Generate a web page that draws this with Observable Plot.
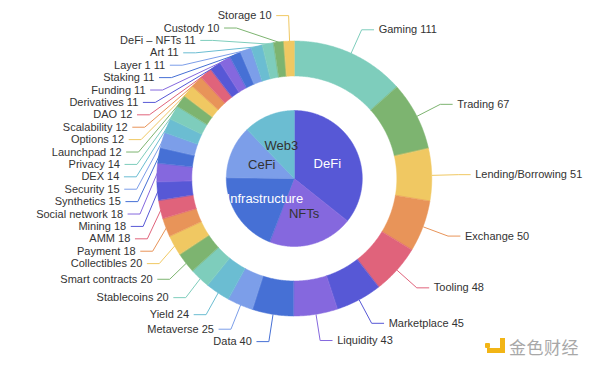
<!DOCTYPE html>
<html>
<head>
<meta charset="utf-8">
<script src="https://cdn.jsdelivr.net/npm/d3@7"></script>
<script src="https://cdn.jsdelivr.net/npm/@observablehq/plot@0.6"></script>
<style>
  html, body { margin: 0; padding: 0; background: #fff; }
  #wrap { position: relative; width: 600px; height: 369px; overflow: hidden; font-family: "Liberation Sans", Arial, sans-serif; }
  #chart { position: absolute; left: 0; top: 0; }
  #logo { position: absolute; left: 484px; top: 336px; height: 18px; width: 110px; }
  #logo .sq { position: absolute; left: 1px; top: 7px; width: 5px; height: 5px; background: #f2b516; border-radius: 1px; }
  #logo .jv { position: absolute; left: 16px; top: 2px; width: 5px; height: 15px; background: #f2b516; }
  #logo .jh { position: absolute; left: 3px; top: 12px; width: 18px; height: 5px; background: #f2b516; }
  #logo .tx { position: absolute; left: 25px; top: -2px; font-family: "Noto Sans CJK SC", sans-serif; font-size: 17px; color: #a8a8a8; letter-spacing: 0.5px; white-space: nowrap; }
</style>
</head>
<body>
<div id="wrap">
  <div id="chart"></div>
  <div id="logo"><div class="sq"></div><div class="jv"></div><div class="jh"></div><div class="tx">金色财经</div></div>
</div>
<script>
// ---- data ----
const categories = ["Gaming", "Trading", "Lending/Borrowing", "Exchange", "Tooling", "Marketplace", "Liquidity", "Data",
  "Metaverse", "Yield", "Stablecoins", "Smart contracts", "Collectibles", "Payment", "AMM", "Mining", "Social network",
  "Synthetics", "Security", "DEX", "Privacy", "Launchpad", "Options", "Scalability", "DAO", "Derivatives", "Funding",
  "Staking", "Layer 1", "Art", "DeFi – NFTs", "Custody", "Storage"];
const values = [111, 67, 51, 50, 48, 45, 43, 40, 25, 24, 20, 20, 20, 18, 18, 18, 18, 15, 15, 14, 14, 12, 12, 12, 12,
  11, 11, 11, 11, 11, 11, 10, 10];
const groups = ["DeFi", "NFTs", "Infrastructure", "CeFi", "Web3"];
const groupValues = [296, 167, 160, 104, 101];
const groupTextColors = ["#ffffff", "#333333", "#ffffff", "#333333", "#333333"];
const palette = ["#7ecdbc", "#7db470", "#f0c862", "#e89459", "#e0637b", "#5758d6", "#8568de", "#4670d5", "#7c9ee9", "#6bbdd2"];

// ---- geometry ----
const W = 600, H = 369;
const cx = 294.3, cy = 178.5;
const pieR = 68, ringR0 = 102.5, ringR1 = 137.5;
const len = 26, len2 = 12, labelDist = 5, labelH = 12.4;

const pt = (a, r) => [cx + r * Math.sin(a), cy - r * Math.cos(a)];
function slices(vals) {
  const total = d3.sum(vals);
  let acc = 0;
  return vals.map(v => {
    const a0 = acc / total * 2 * Math.PI; acc += v;
    const a1 = acc / total * 2 * Math.PI;
    return {a0, a1, mid: (a0 + a1) / 2};
  });
}
function arcRows(name, a0, a1, r0, r1) {
  const n = Math.max(2, Math.ceil((a1 - a0) / (Math.PI / 360)) + 1);
  const rows = [];
  for (let k = 0; k < n; k++) {
    const a = a0 + (a1 - a0) * k / (n - 1);
    const [x1, y1] = pt(a, r0), [x2, y2] = pt(a, r1);
    rows.push({name, x1, y1, x2, y2});
  }
  return rows;
}

const outer = slices(values).map((s, i) => ({...s, name: categories[i], label: `${categories[i]} ${values[i]}`}));
const inner = slices(groupValues).map((s, i) => ({...s, name: groups[i]}));

const ringRows = outer.flatMap(s => arcRows(s.name, s.a0, s.a1, ringR0, ringR1));
const pieRows = inner.flatMap(s => arcRows(s.name, s.a0, s.a1, 0, pieR));

// ---- label layout (pie outer labels with overlap avoidance) ----
const items = outer.map(s => {
  const dir = Math.sin(s.mid) < 0 ? -1 : 1;
  const p0 = pt(s.mid, ringR1), p1 = pt(s.mid, ringR1 + len);
  const x3 = p1[0] + dir * len2;
  return {...s, dir, p0, lx: x3 + dir * labelDist, ly: p1[1]};
});

function recalcX(list, dir) {
  const rA = ringR1 + len;
  const semis = [list.filter(d => d.ly <= cy), list.filter(d => d.ly > cy)];
  for (const semi of semis) {
    let maxY = 0, rB = rA;
    for (const it of semi) {
      const dy = Math.abs(it.ly - cy);
      if (dy >= maxY) {
        const dx = it.lx - cx - len2 * dir;
        rB = Math.abs(dx) < rA ? Math.sqrt(dy * dy / (1 - dx * dx / rA / rA)) : rA;
        maxY = dy;
      }
    }
    for (const it of semi) {
      const dy = Math.abs(it.ly - cy);
      const ex = Math.sqrt(Math.max(0, 1 - dy * dy / (rB * rB))) * rA;
      it.lx = cx + (ex + len2) * dir;
    }
  }
}
function layoutSide(list, dir) {
  if (list.length < 2) return;
  list.sort((a, b) => a.ly - b.ly);
  let lastPos = 0, adjusted = false;
  for (const it of list) {
    const delta = (it.ly - labelH / 2) - lastPos;
    if (delta < 0) { it.ly -= delta; adjusted = true; }
    lastPos = it.ly + labelH / 2;
  }
  const over = list[list.length - 1].ly + labelH / 2 - H;
  if (over > 0) { for (const it of list) it.ly -= over; adjusted = true; }
  if (adjusted) recalcX(list, dir);
}
const leftItems = items.filter(d => d.dir < 0), rightItems = items.filter(d => d.dir > 0);
layoutSide(leftItems, -1);
layoutSide(rightItems, 1);

const lineRows = items.flatMap(it => {
  const x2 = it.lx - it.dir * labelDist;
  const x1 = x2 - it.dir * len2;
  return [
    {name: it.name, x: it.p0[0], y: it.p0[1]},
    {name: it.name, x: x1, y: it.ly},
    {name: it.name, x: x2, y: it.ly}
  ];
});

const innerLabels = inner.map((s, i) => {
  const [x, y] = pt(s.mid, pieR * 0.53);
  return {name: s.name, x, y, tc: groupTextColors[i]};
});

const colorDomain = [...categories, ...groups];
const colorRange = [...categories.map((_, i) => palette[i % 10]), ...groups.map((_, i) => palette[(i + 5) % 10])];

const font = "'Liberation Sans', Arial, sans-serif";
const chart = Plot.plot({
  width: W, height: H,
  marginTop: 0, marginRight: 0, marginBottom: 0, marginLeft: 0,
  x: {domain: [0, W], range: [0, W], axis: null},
  y: {domain: [0, H], range: [0, H], axis: null},
  color: {type: "ordinal", domain: colorDomain, range: colorRange},
  style: {background: "transparent", fontFamily: font},
  marks: [
    Plot.area(ringRows, {x1: "x1", y1: "y1", x2: "x2", y2: "y2", z: "name", fill: "name", stroke: "name", strokeWidth: 0.5}),
    Plot.area(pieRows, {x1: "x1", y1: "y1", x2: "x2", y2: "y2", z: "name", fill: "name", stroke: "name", strokeWidth: 0.5}),
    Plot.line(lineRows, {x: "x", y: "y", z: "name", stroke: "name", strokeWidth: 1, curve: "linear", strokeLinejoin: "miter"}),
    Plot.text(leftItems, {x: "lx", y: "ly", text: "label", textAnchor: "end", fill: "#333", fontSize: 11}),
    Plot.text(rightItems, {x: "lx", y: "ly", text: "label", textAnchor: "start", fill: "#333", fontSize: 11}),
    Plot.text(innerLabels.filter(d => d.tc === "#ffffff"), {x: "x", y: "y", text: "name", fill: "#ffffff", fontSize: 13}),
    Plot.text(innerLabels.filter(d => d.tc !== "#ffffff"), {x: "x", y: "y", text: "name", fill: "#333333", fontSize: 13})
  ]
});
document.getElementById("chart").appendChild(chart);
</script>
</body>
</html>
